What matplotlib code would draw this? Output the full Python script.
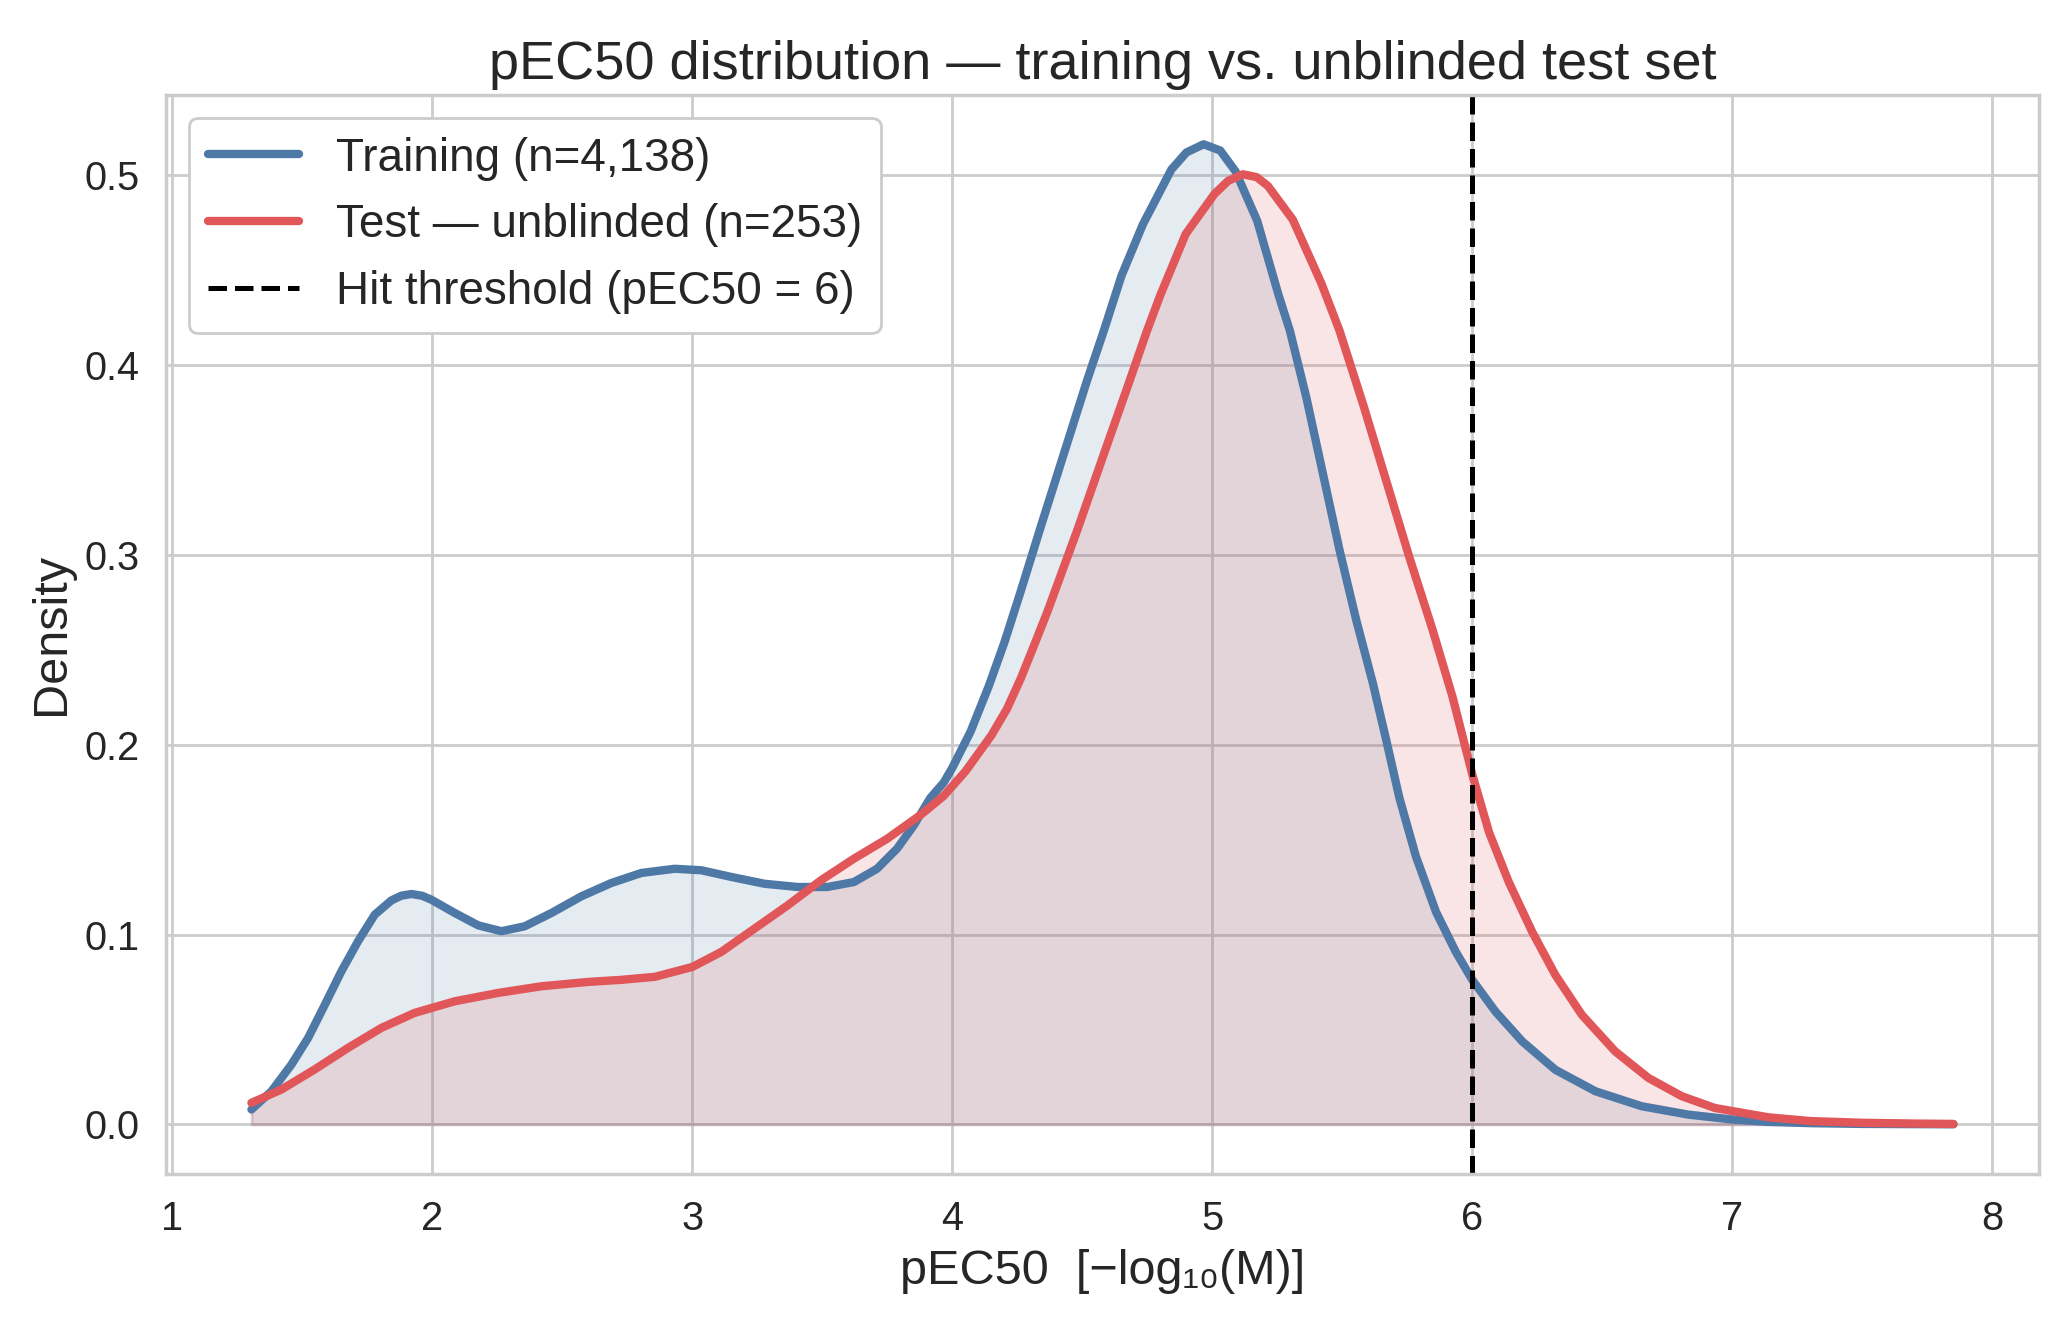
import matplotlib
matplotlib.use("Agg")
import matplotlib.pyplot as plt
import seaborn as sns

# density curves (KDE of pEC50)
train_x = [1.304, 1.381, 1.458, 1.522, 1.586, 1.65, 1.714, 1.778, 1.842, 1.88, 1.919,
           1.96, 1.996, 2.086, 2.176, 2.265, 2.355, 2.458, 2.573, 2.688, 2.804, 2.932,
           3.034, 3.149, 3.277, 3.404, 3.519, 3.621, 3.71, 3.787, 3.851, 3.915,
           3.966, 4.0, 4.07, 4.14, 4.2, 4.263, 4.34, 4.429, 4.518, 4.582, 4.65,
           4.732, 4.842, 4.90, 4.966, 5.03, 5.089, 5.172, 5.254, 5.298, 5.361,
           5.425, 5.489, 5.553, 5.617, 5.67, 5.719, 5.783, 5.86, 5.936, 6.0,
           6.089, 6.192, 6.319, 6.473, 6.651, 6.83, 7.0, 7.137, 7.3, 7.5, 7.85]
train_y = [0.0079, 0.0175, 0.0316, 0.0456, 0.063, 0.0807, 0.0965, 0.1105, 0.1180, 0.1205, 0.1214,
           0.1205, 0.1184, 0.1114, 0.1049, 0.1018, 0.1044, 0.1114, 0.1202, 0.1272, 0.1325, 0.1347,
           0.1339, 0.1304, 0.1268, 0.1251, 0.1251, 0.1277, 0.1347, 0.1453, 0.1575, 0.1720,
           0.180, 0.188, 0.207, 0.231, 0.254, 0.281, 0.315, 0.3535, 0.392, 0.418, 0.447,
           0.474, 0.503, 0.512, 0.5163, 0.513, 0.502, 0.476, 0.437, 0.418, 0.383,
           0.3427, 0.3024, 0.2657, 0.2324, 0.2015, 0.1720, 0.1410, 0.1119, 0.0909, 0.076,
           0.0594, 0.0437, 0.0288, 0.0175, 0.0096, 0.0052, 0.0026, 0.0014, 0.0007, 0.0003, 0.0001]

test_x = [1.304, 1.419, 1.547, 1.676, 1.804, 1.932, 2.086, 2.253, 2.419, 2.599,
          2.728, 2.856, 3.0, 3.111, 3.239, 3.366, 3.494, 3.621, 3.749, 3.877,
          3.966, 4.05, 4.15, 4.21, 4.263, 4.31, 4.365, 4.48, 4.582, 4.672, 4.748, 4.80,
          4.897, 5.007, 5.06, 5.117, 5.17, 5.213, 5.309, 5.419, 5.489, 5.579,
          5.668, 5.757, 5.847, 5.923, 6.0, 6.064, 6.14, 6.23, 6.319, 6.421,
          6.549, 6.677, 6.805, 6.932, 7.137, 7.3, 7.5, 7.7, 7.85]
test_y = [0.0114, 0.0184, 0.029, 0.0404, 0.0509, 0.0588, 0.0649, 0.0693, 0.0728, 0.0751,
          0.0762, 0.0778, 0.083, 0.0909, 0.1032, 0.1154, 0.1286, 0.14, 0.1505, 0.1630,
          0.173, 0.186, 0.205, 0.219, 0.235, 0.251, 0.270, 0.313, 0.353, 0.388, 0.418, 0.437,
          0.469, 0.490, 0.497, 0.5005, 0.499, 0.4944, 0.4766, 0.443, 0.418, 0.3795,
          0.3392, 0.2989, 0.2604, 0.2254, 0.184, 0.1538, 0.1276, 0.1014, 0.0787, 0.0577,
          0.0385, 0.0245, 0.0149, 0.0087, 0.0038, 0.0018, 0.0009, 0.0005, 0.0003]

threshold = 6
train_label = "Training (n=4,138)"
test_label = "Test \u2014 unblinded (n=253)"
thr_label = "Hit threshold (pEC50 = 6)"

blue = "#4e79a7"
red = "#e15759"

sns.set_theme(style="whitegrid")
plt.rcParams["font.family"] = ["Liberation Sans", "DejaVu Sans"]

fig, ax = plt.subplots(figsize=(10.345, 6.615), dpi=200)
fig.subplots_adjust(left=0.0804, right=0.9853, top=0.928, bottom=0.113)

ax.fill_between(train_x, train_y, 0, color=blue, alpha=0.15, linewidth=1)
ax.plot(train_x, train_y, color=blue, lw=3, label=train_label,
        solid_capstyle="round", solid_joinstyle="round")
ax.fill_between(test_x, test_y, 0, color=red, alpha=0.15, linewidth=1)
ax.plot(test_x, test_y, color=red, lw=3, label=test_label,
        solid_capstyle="round", solid_joinstyle="round")
ax.axvline(threshold, color="black", ls="--", lw=1.8, label=thr_label)

ax.set_title("pEC50 distribution \u2014 training vs. unblinded test set", fontsize=19.5)
ax.set_xlabel("pEC50  [\u2212log\u2081\u2080(M)]", fontsize=17.5)
ax.set_ylabel("Density", fontsize=17.5)
ax.tick_params(labelsize=14.3)
ax.legend(loc="upper left", fontsize=16.5, frameon=True, framealpha=1)

fig.savefig("out.png", dpi=200)
